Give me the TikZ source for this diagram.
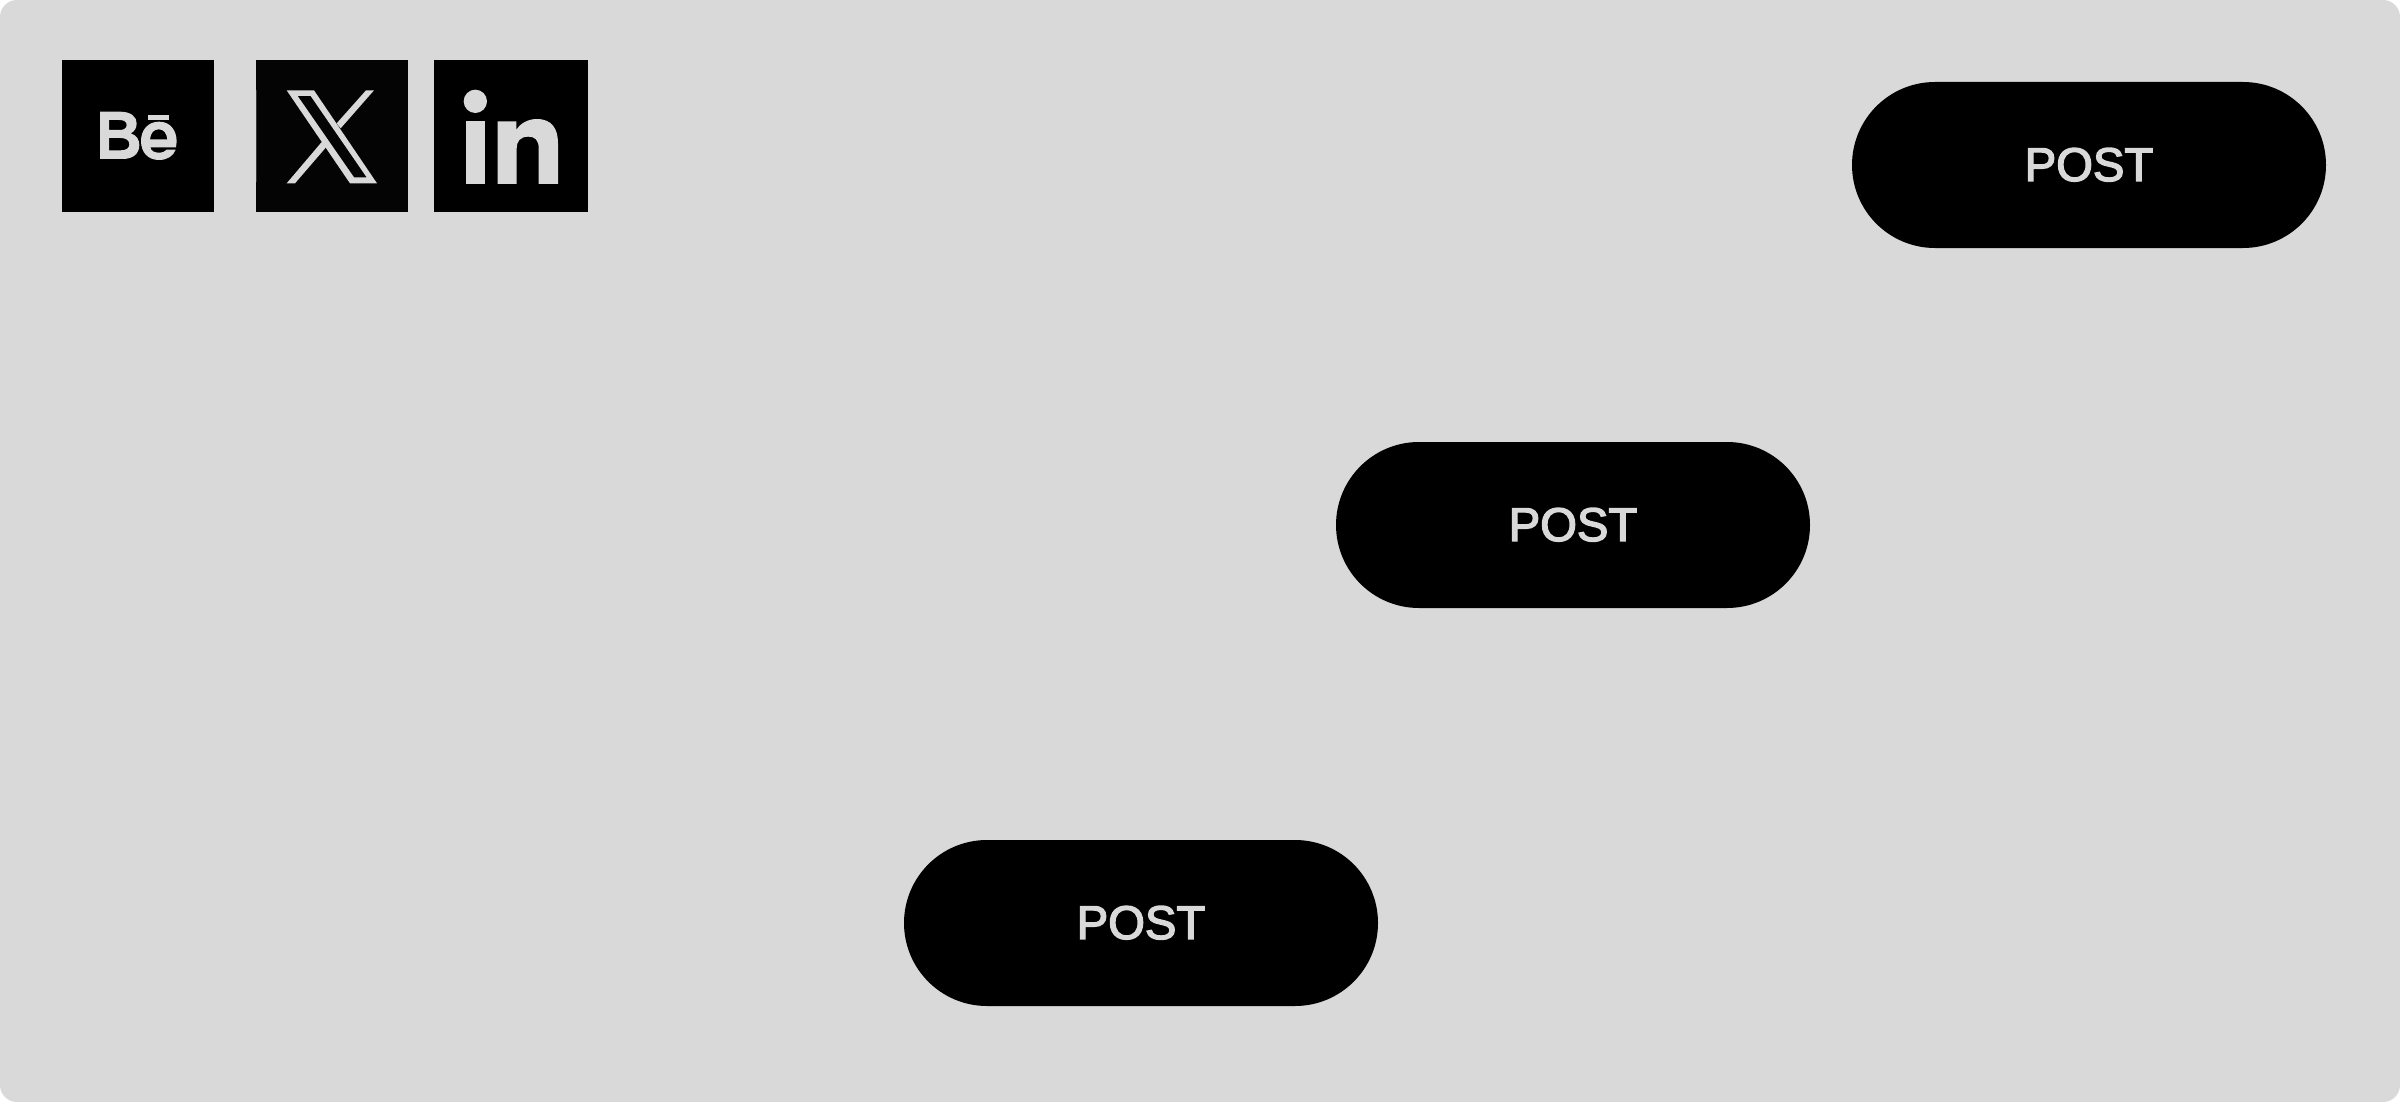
\documentclass[tikz,border=0pt]{standalone}
\usepackage{fontspec}
\setmainfont{Liberation Sans}
\newfontfamily\postfont[RawFeature={embolden=3}]{Liberation Sans}
\definecolor{paper}{HTML}{D9D9D9}
\definecolor{nearblack}{HTML}{040404}
\tikzset{
  pill/.style={draw=none,fill=black,text=paper,rounded corners=41.5pt,minimum width=237pt,minimum height=83pt,inner sep=0pt,font=\postfont\fontsize{23.6}{24}\selectfont,text depth=0.5pt},
  iconbox/.style={draw=none,fill=black,inner sep=0pt,minimum height=76pt},
  glyph/.style={fill=paper,draw=none,even odd rule}
}
\begin{document}
\begin{tikzpicture}[x=0.5pt,y=-0.5pt]
\useasboundingbox (0,0) rectangle (2400,1102);
\fill[paper,rounded corners=8.5pt] (0,0) rectangle (2400,1102);
% icon tiles
\node[iconbox,minimum width=76pt] (be) at (138,136) {};
\node[iconbox,minimum width=76pt,fill=nearblack] (xt) at (332,136) {};
\node[iconbox,minimum width=77pt] (li) at (511,136) {};
\fill[black!75!paper] (256,90) rectangle (257,182);
% Behance glyphs
\begin{scope}[shift={(40,40)},scale=1/3]
\fill[glyph] (180,215) -- (240,215) .. controls (275,215) and (290,232) .. (290,250) .. controls (290,265) and (283,275) .. (272,280) .. controls (290,285) and (298,300) .. (298,315) .. controls (298,342) and (278,357) .. (248,357) -- (180,357) -- cycle
 (207,240) -- (238,240) .. controls (252,240) and (260,245) .. (260,255) .. controls (260,265) and (252,270) .. (238,270) -- (207,270) -- cycle
 (207,294) -- (242,294) .. controls (258,294) and (268,301) .. (268,313) .. controls (268,325) and (258,331) .. (242,331) -- (207,331) -- cycle;
\fill[glyph] (408,322) -- (331,322) .. controls (334,334) and (344,338) .. (357,338) .. controls (368,338) and (376,334) .. (380,329) -- (407,329) .. controls (400,348) and (382,360) .. (357,360) .. controls (324,360) and (303,337) .. (303,303) .. controls (303,270) and (324,245) .. (357,245) .. controls (390,245) and (410,270) .. (410,305) -- cycle
 (330,298) -- (382,298) .. controls (380,279) and (371,268) .. (356,268) .. controls (341,268) and (332,279) .. (330,298) -- cycle;
\fill[glyph] (325,224) rectangle (387,241);
\end{scope}
% X glyph
\begin{scope}[shift={(240,40)},scale=1/3]
\fill[glyph] (140,151) -- (222,151) -- (411,430) -- (330,430) -- cycle
 (173,168) -- (212,168) -- (380,412) -- (342,412) -- cycle;
\fill[glyph] (378,151) -- (402,151) -- (302,265) -- (290,250) -- cycle;
\fill[glyph] (140,430) -- (165,430) -- (258,322) -- (246,305) -- cycle;
\end{scope}
% LinkedIn glyphs
\begin{scope}[shift={(420,40)},scale=1/3]
\fill[glyph] (166,184) circle [radius=35];
\fill[glyph] (137,244) rectangle (196,432);
\fill[glyph] (233,244) -- (289,244) -- (289,270) .. controls (300,250) and (325,237) .. (350,237) .. controls (395,237) and (414,265) .. (414,310) -- (414,432) -- (356,432) -- (356,325) .. controls (356,300) and (345,290) .. (325,290) .. controls (300,290) and (290,305) .. (290,325) -- (290,432) -- (233,432) -- cycle;
\end{scope}
% buttons
\node[pill] (post1) at (2089,165) {POST};
\node[pill] (post2) at (1573,525) {POST};
\node[pill] (post3) at (1141,923) {POST};
\end{tikzpicture}
\end{document}
